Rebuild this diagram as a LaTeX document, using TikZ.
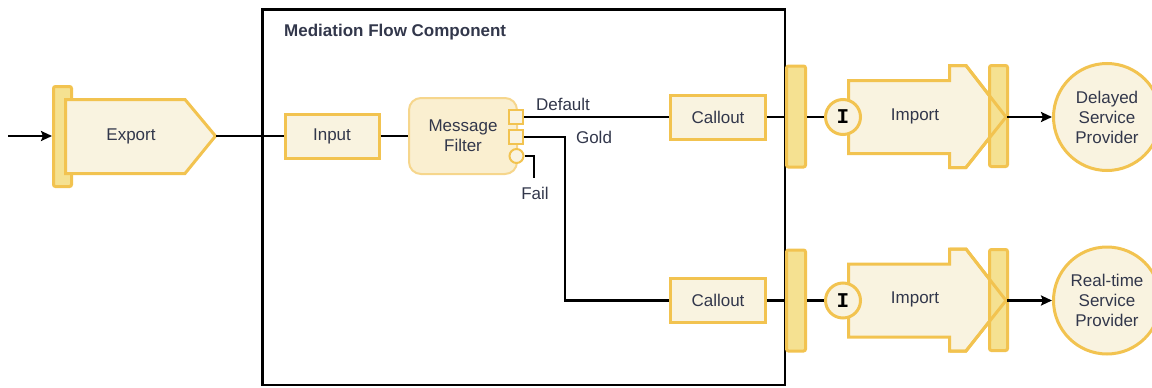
\documentclass[tikz,border=0pt]{standalone}
\usepackage{fontspec}
\setmainfont{Liberation Sans}
\newfontfamily\monofnt{Liberation Mono}
\usetikzlibrary{arrows.meta}
\definecolor{yb}{RGB}{242,195,80}
\definecolor{cream}{RGB}{249,243,224}
\definecolor{barfill}{RGB}{245,225,145}
\definecolor{mfborder}{RGB}{246,214,140}
\definecolor{mffill}{RGB}{250,239,208}
\definecolor{txt}{RGB}{50,55,75}
\begin{document}
\begin{tikzpicture}[x=1pt,y=-1pt,
  every node/.style={font=\fontsize{17}{20}\selectfont, text=txt},
  ybox/.style={draw=yb, fill=cream, line width=3pt, inner sep=0pt},
  barbox/.style={draw=yb, fill=barfill, line width=3pt, rounded corners=2pt, minimum width=19pt, minimum height=100pt, inner sep=0pt},
  portbox/.style={draw=yb, fill=cream, line width=2pt, minimum size=14pt, inner sep=0pt},
  conn/.style={draw=black, line width=2.8pt},
  arr/.style={conn, -{Stealth[length=11pt,width=10pt,inset=2pt]}},
  ifont/.style={font=\monofnt\bfseries\fontsize{21}{21}\selectfont, text=black},
  lbl/.style={inner sep=1pt},
]
\useasboundingbox (0,0) rectangle (1152,388);

% frame
\node[draw, line width=2.5pt, minimum width=522.5pt, minimum height=375.5pt, inner sep=0pt] (frame) at (523.5,197) {};
\node[anchor=west, inner sep=0pt, font=\bfseries\fontsize{17}{20}\selectfont] (title) at (284,32) {Mediation Flow Component};

% export
\node[barbox, minimum width=18pt, minimum height=100pt] (expbar) at (62.5,136.5) {};
\draw[ybox] (65.5,99.5) -- (185,99.5) -- (215.5,136) -- (185,173.5) -- (65.5,173.5) -- cycle;
\node (export) at (131,136) {Export};
\coordinate (exptip) at (216,136);
\coordinate (src) at (8,136);
\draw[arr] (src) -- (src -| expbar.west);

% input
\node[ybox, minimum width=94pt, minimum height=44pt] (input) at (332,136) {Input};
\draw[conn] (exptip) -- (input.west);

% message filter
\node[draw=mfborder, fill=mffill, line width=2pt, rounded corners=12pt, minimum width=108pt, minimum height=76pt, align=center, inner sep=0pt] (mf) at (463,136) {Message\\Filter};
\draw[conn] (input) -- (mf);
\node[portbox] (p1) at (516,117) {};
\node[portbox] (p2) at (516,137) {};
\node[portbox, circle] (p3) at (516.5,156) {};
\coordinate (failend) at (534,178);

% callouts
\node[ybox, minimum width=95pt, minimum height=44pt] (callout1) at (718,117) {Callout};
\node[ybox, minimum width=95pt, minimum height=44pt] (callout2) at (718,300.5) {Callout};

\draw[conn] (p1.east) -- (callout1.west);
\draw[conn] (p2.east) -- ++(41,0) |- (callout2.west);
\draw[conn] (p3.east) -| (failend);
\node[lbl] (default) at (563,104) {Default};
\node[lbl] (gold) at (594,137) {Gold};
\node[lbl] (fail) at (535,193) {Fail};

% row 1 import
\node[barbox, minimum height=101pt] (b1) at (796,116.5) {};
\draw[conn] (callout1.east) -- (callout1.east -| b1.west);
\draw[ybox] (848.5,80.5) -- (949.5,80.5) -- (949.5,65.5) -- (966,65.5) -- (1006,117) -- (966,167.5) -- (949.5,167.5) -- (949.5,153.5) -- (848.5,153.5) -- cycle;
\node[barbox, minimum width=18pt, minimum height=101pt] (rb1) at (998.5,116) {};
\draw[draw=yb, line width=3pt, line join=miter] (949.5,65.5) -- (966,65.5) -- (1006,117) -- (966,167.5) -- (949.5,167.5);
\coordinate (imptip1) at (1007,117);
\node (import1) at (915,116) {Import};
\node[ybox, circle, minimum size=35pt, ifont] (i1) at (843,117) {I};
\draw[conn] (b1.east |- i1) -- (i1.west);
\node[ybox, circle, minimum size=107pt, align=center] (prov1) at (1107,117) {Delayed\\Service\\Provider};
\draw[arr] (imptip1) -- (prov1.west);

% row 2 import
\node[barbox, minimum height=101pt] (b2) at (796,300.5) {};
\draw[conn] (callout2.east) -- (callout2.east -| b2.west);
\draw[ybox] (848.5,264) -- (949.5,264) -- (949.5,249) -- (966,249) -- (1006,300.5) -- (966,351) -- (949.5,351) -- (949.5,337) -- (848.5,337) -- cycle;
\node[barbox, minimum width=18pt, minimum height=101pt] (rb2) at (998.5,300) {};
\draw[draw=yb, line width=3pt, line join=miter] (949.5,249) -- (966,249) -- (1006,300.5) -- (966,351) -- (949.5,351);
\coordinate (imptip2) at (1007,300.5);
\node (import2) at (915,299.5) {Import};
\node[ybox, circle, minimum size=35pt, ifont] (i2) at (843,300.5) {I};
\draw[conn] (b2.east |- i2) -- (i2.west);
\node[ybox, circle, minimum size=107pt, align=center] (prov2) at (1107,300.5) {Real-time\\Service\\Provider};
\draw[arr] (imptip2) -- (prov2.west);
\end{tikzpicture}
\end{document}
